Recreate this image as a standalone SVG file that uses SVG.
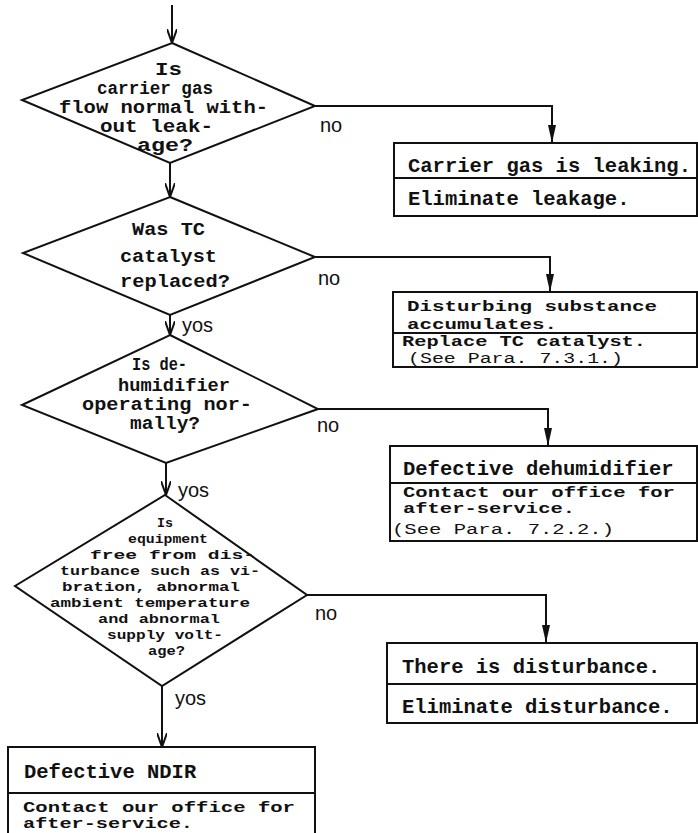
<svg xmlns="http://www.w3.org/2000/svg" width="698" height="833" viewBox="0 0 698 833">
<defs>
<style>
.shape{fill:#fff;stroke:#111;stroke-width:2}
.ln{fill:none;stroke:#111;stroke-width:2}
.dt{font-family:"Liberation Mono","DejaVu Sans Mono",monospace;font-weight:bold;fill:#111;font-size:18px}
.ds{font-family:"Liberation Mono","DejaVu Sans Mono",monospace;font-weight:bold;fill:#111;font-size:13px}
.bt{font-family:"Liberation Mono","DejaVu Sans Mono",monospace;font-weight:bold;fill:#111;font-size:20.5px}
.bc{font-family:"Liberation Mono","DejaVu Sans Mono",monospace;font-weight:bold;fill:#111;font-size:15px}
.bn{font-family:"Liberation Mono","DejaVu Sans Mono",monospace;fill:#111;font-size:14px}
.lb{font-family:"Liberation Sans",Arial,sans-serif;fill:#111;font-size:20px}
</style>
<marker id="open" viewBox="0 0 14 10" refX="14" refY="5" markerWidth="14" markerHeight="10" markerUnits="userSpaceOnUse" orient="auto">
<path d="M0,0 L14,5 L0,10" fill="none" stroke="#111" stroke-width="2"/>
</marker>
<marker id="fill" viewBox="0 0 18 8" refX="18" refY="4" markerWidth="18" markerHeight="8" markerUnits="userSpaceOnUse" orient="auto">
<path d="M0,0 L18,4 L0,8 z" fill="#111"/>
</marker>
</defs>
<rect width="698" height="833" fill="#fff"/>

<g id="connectors">
<path class="ln" d="M172,5 V43" marker-end="url(#open)"/>
<path class="ln" d="M170,163 V197" marker-end="url(#open)"/>
<path class="ln" d="M170,315 V335" marker-end="url(#open)"/>
<path class="ln" d="M166,463 V495" marker-end="url(#open)"/>
<path class="ln" d="M162,686 V747" marker-end="url(#open)"/>
<path class="ln" d="M315,106 H552 V143" marker-end="url(#fill)"/>
<path class="ln" d="M315,257 H550 V292" marker-end="url(#fill)"/>
<path class="ln" d="M318,409 H548 V446" marker-end="url(#fill)"/>
<path class="ln" d="M307,595 H546 V643" marker-end="url(#fill)"/>
<text class="lb" x="320" y="132">no</text>
<text class="lb" x="318" y="285">no</text>
<text class="lb" x="317" y="432">no</text>
<text class="lb" x="315" y="620">no</text>
<text class="lb" x="182" y="332">yos</text>
<text class="lb" x="178" y="497">yos</text>
<text class="lb" x="175" y="705">yos</text>
</g>

<g id="d1">
<polygon class="shape" points="172,43 315,106 170,163 22,100"/>
<text class="dt" x="155" y="75" textLength="27" lengthAdjust="spacingAndGlyphs">Is</text>
<text class="dt" x="97" y="94" textLength="116" lengthAdjust="spacingAndGlyphs">carrier gas</text>
<text class="dt" x="59" y="113" textLength="209" lengthAdjust="spacingAndGlyphs">flow normal with-</text>
<text class="dt" x="100" y="132" textLength="113" lengthAdjust="spacingAndGlyphs">out leak-</text>
<text class="dt" x="137" y="151" textLength="56" lengthAdjust="spacingAndGlyphs">age?</text>
</g>

<g id="d2">
<polygon class="shape" points="170,197 315,257 170,315 23,253"/>
<text class="dt" x="132" y="235" textLength="73" lengthAdjust="spacingAndGlyphs">Was TC</text>
<text class="dt" x="120" y="262" textLength="97" lengthAdjust="spacingAndGlyphs">catalyst</text>
<text class="dt" x="120" y="287" textLength="110" lengthAdjust="spacingAndGlyphs">replaced?</text>
</g>

<g id="d3">
<polygon class="shape" points="170,335 318,409 166,463 22,405"/>
<text class="dt" x="132" y="370" textLength="55" lengthAdjust="spacingAndGlyphs">Is de-</text>
<text class="dt" x="118" y="391" textLength="112" lengthAdjust="spacingAndGlyphs">humidifier</text>
<text class="dt" x="82" y="410" textLength="170" lengthAdjust="spacingAndGlyphs">operating nor-</text>
<text class="dt" x="130" y="429" textLength="70" lengthAdjust="spacingAndGlyphs">mally?</text>
</g>

<g id="d4">
<polygon class="shape" points="165,495 307,595 162,686 15,586"/>
<text class="ds" x="157" y="527" textLength="16" lengthAdjust="spacingAndGlyphs">Is</text>
<text class="ds" x="128" y="543" textLength="80" lengthAdjust="spacingAndGlyphs">equipment</text>
<text class="ds" x="90" y="559" textLength="165" lengthAdjust="spacingAndGlyphs">free from dis-</text>
<text class="ds" x="60" y="575" textLength="200" lengthAdjust="spacingAndGlyphs">turbance such as vi-</text>
<text class="ds" x="62" y="591" textLength="178" lengthAdjust="spacingAndGlyphs">bration, abnormal</text>
<text class="ds" x="50" y="607" textLength="200" lengthAdjust="spacingAndGlyphs">ambient temperature</text>
<text class="ds" x="98" y="623" textLength="122" lengthAdjust="spacingAndGlyphs">and abnormal</text>
<text class="ds" x="107" y="639" textLength="116" lengthAdjust="spacingAndGlyphs">supply volt-</text>
<text class="ds" x="148" y="655" textLength="37" lengthAdjust="spacingAndGlyphs">age?</text>
</g>

<g id="b1">
<rect class="shape" x="394" y="143" width="303" height="73"/>
<line class="ln" x1="394" y1="178" x2="697" y2="178"/>
<text class="bt" x="408" y="172">Carrier gas is leaking.</text>
<text class="bt" x="408" y="205">Eliminate leakage.</text>
</g>

<g id="b2">
<rect class="shape" x="393" y="292" width="304" height="75"/>
<line class="ln" x1="393" y1="333" x2="697" y2="333"/>
<text class="bc" x="407" y="311" textLength="250" lengthAdjust="spacingAndGlyphs">Disturbing substance</text>
<text class="bc" x="407" y="329" textLength="150" lengthAdjust="spacingAndGlyphs">accumulates.</text>
<text class="bc" x="402" y="346" textLength="244" lengthAdjust="spacingAndGlyphs">Replace TC catalyst.</text>
<text class="bn" x="408" y="363" textLength="215" lengthAdjust="spacingAndGlyphs">(See Para. 7.3.1.)</text>
</g>

<g id="b3">
<rect class="shape" x="390" y="446" width="307" height="95"/>
<line class="ln" x1="390" y1="483" x2="697" y2="483"/>
<text class="bt" x="403" y="475">Defective dehumidifier</text>
<text class="bc" x="403" y="497" textLength="272" lengthAdjust="spacingAndGlyphs">Contact our office for</text>
<text class="bc" x="403" y="513" textLength="172" lengthAdjust="spacingAndGlyphs">after-service.</text>
<text class="bn" x="392" y="534" textLength="222" lengthAdjust="spacingAndGlyphs">(See Para. 7.2.2.)</text>
</g>

<g id="b4">
<rect class="shape" x="387" y="643" width="310" height="80"/>
<line class="ln" x1="387" y1="684" x2="697" y2="684"/>
<text class="bt" x="402" y="673">There is disturbance.</text>
<text class="bt" x="402" y="713">Eliminate disturbance.</text>
</g>

<g id="b5">
<rect class="shape" x="8" y="747" width="307" height="100"/>
<line class="ln" x1="8" y1="793" x2="315" y2="793"/>
<text class="bt" x="24" y="778">Defective NDIR</text>
<text class="bc" x="23" y="812" textLength="272" lengthAdjust="spacingAndGlyphs">Contact our office for</text>
<text class="bc" x="23" y="828" textLength="170" lengthAdjust="spacingAndGlyphs">after-service.</text>
</g>
</svg>
